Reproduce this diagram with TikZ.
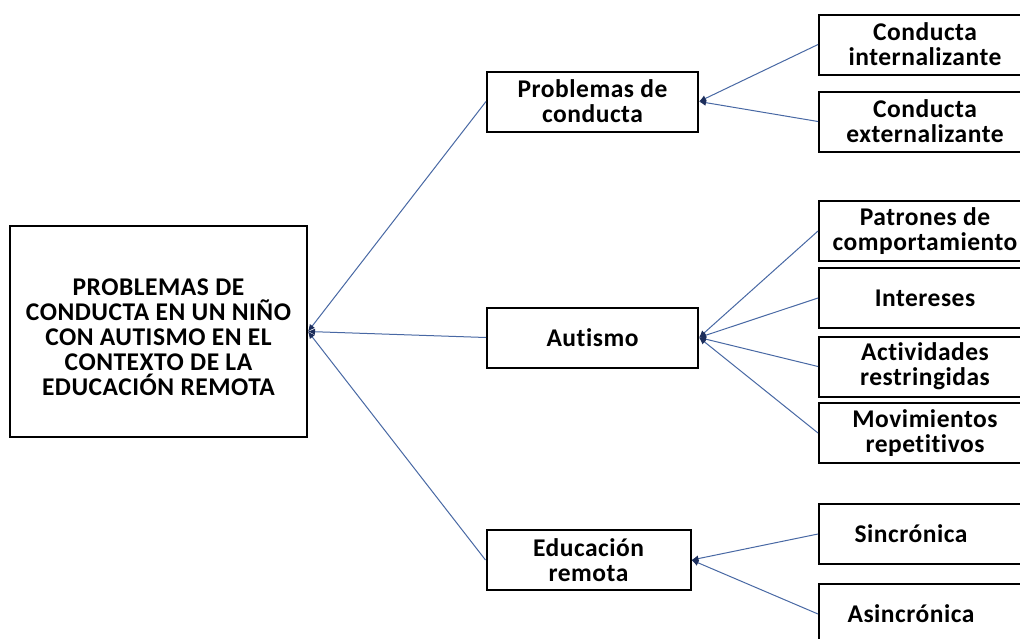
\documentclass[tikz,border=0pt]{standalone}
\usepackage{fontspec}
\setmainfont{Carlito}[Ligatures={NoCommon},LetterSpace=2]
\usetikzlibrary{arrows.meta}
\definecolor{linkblue}{RGB}{72,104,164}
\definecolor{tipblue}{RGB}{28,46,92}
\begin{document}
\begin{tikzpicture}[x=1pt,y=-1pt,
  box/.style={draw=black,line width=2pt,fill=white,inner sep=0pt,align=center,
    font=\fontsize{25.5}{25}\selectfont\bfseries},
  leaf/.style={box,minimum width=212,minimum height=60},
  link/.style={draw=linkblue,line width=1pt,
    -{Latex[length=7pt,width=6.5pt,color=tipblue]}}]
\useasboundingbox (0,0) rectangle (1020,638);
\clip (0,0) rectangle (1020,638);
\fill[white] (0,0) rectangle (1020,638);

\node[box,minimum width=297,minimum height=211] (main) at (158.5,331.5)
  {\rule{0pt}{8pt}\\[-4pt]PROBLEMAS DE\\CONDUCTA EN UN NIÑO\\CON AUTISMO EN EL\\CONTEXTO DE LA\\EDUCACIÓN REMOTA};

\node[box,minimum width=211,minimum height=60] (prob) at (592.5,101.5) {Problemas de\\conducta};
\node[box,minimum width=211,minimum height=60] (aut) at (592.5,337.5) {Autismo};
\node[box,minimum width=204,minimum height=60] (edu) at (588.5,560) {Educación\\remota};

\node[leaf] (ci) at (925,44.5) {Conducta\\internalizante};
\node[leaf] (ce) at (925,121.5) {Conducta\\externalizante};
\node[leaf] (pc) at (925,231) {Patrones de\\comportamiento};
\node[leaf] (in) at (925,298) {Intereses};
\node[leaf] (ac) at (925,366.5) {Actividades\\restringidas};
\node[leaf] (mo) at (925,433) {Movimientos\\repetitivos};
\node[leaf] (si) at (925,534) {\hspace*{-28pt}Sincrónica};
\node[leaf] (as) at (925,614) {\hspace*{-28pt}Asincrónica};

\draw[link] (prob.west) -- (main.east);
\draw[link] (aut.west) -- (main.east);
\draw[link] (edu.west) -- (main.east);

\draw[link] (ci.west) -- (prob.east);
\draw[link] (ce.west) -- (prob.east);
\draw[link] (pc.west) -- (aut.east);
\draw[link] (in.west) -- (aut.east);
\draw[link] (ac.west) -- (aut.east);
\draw[link] (mo.west) -- (aut.east);
\draw[link] (si.west) -- (edu.east);
\draw[link] (as.west) -- (edu.east);
\end{tikzpicture}
\end{document}
